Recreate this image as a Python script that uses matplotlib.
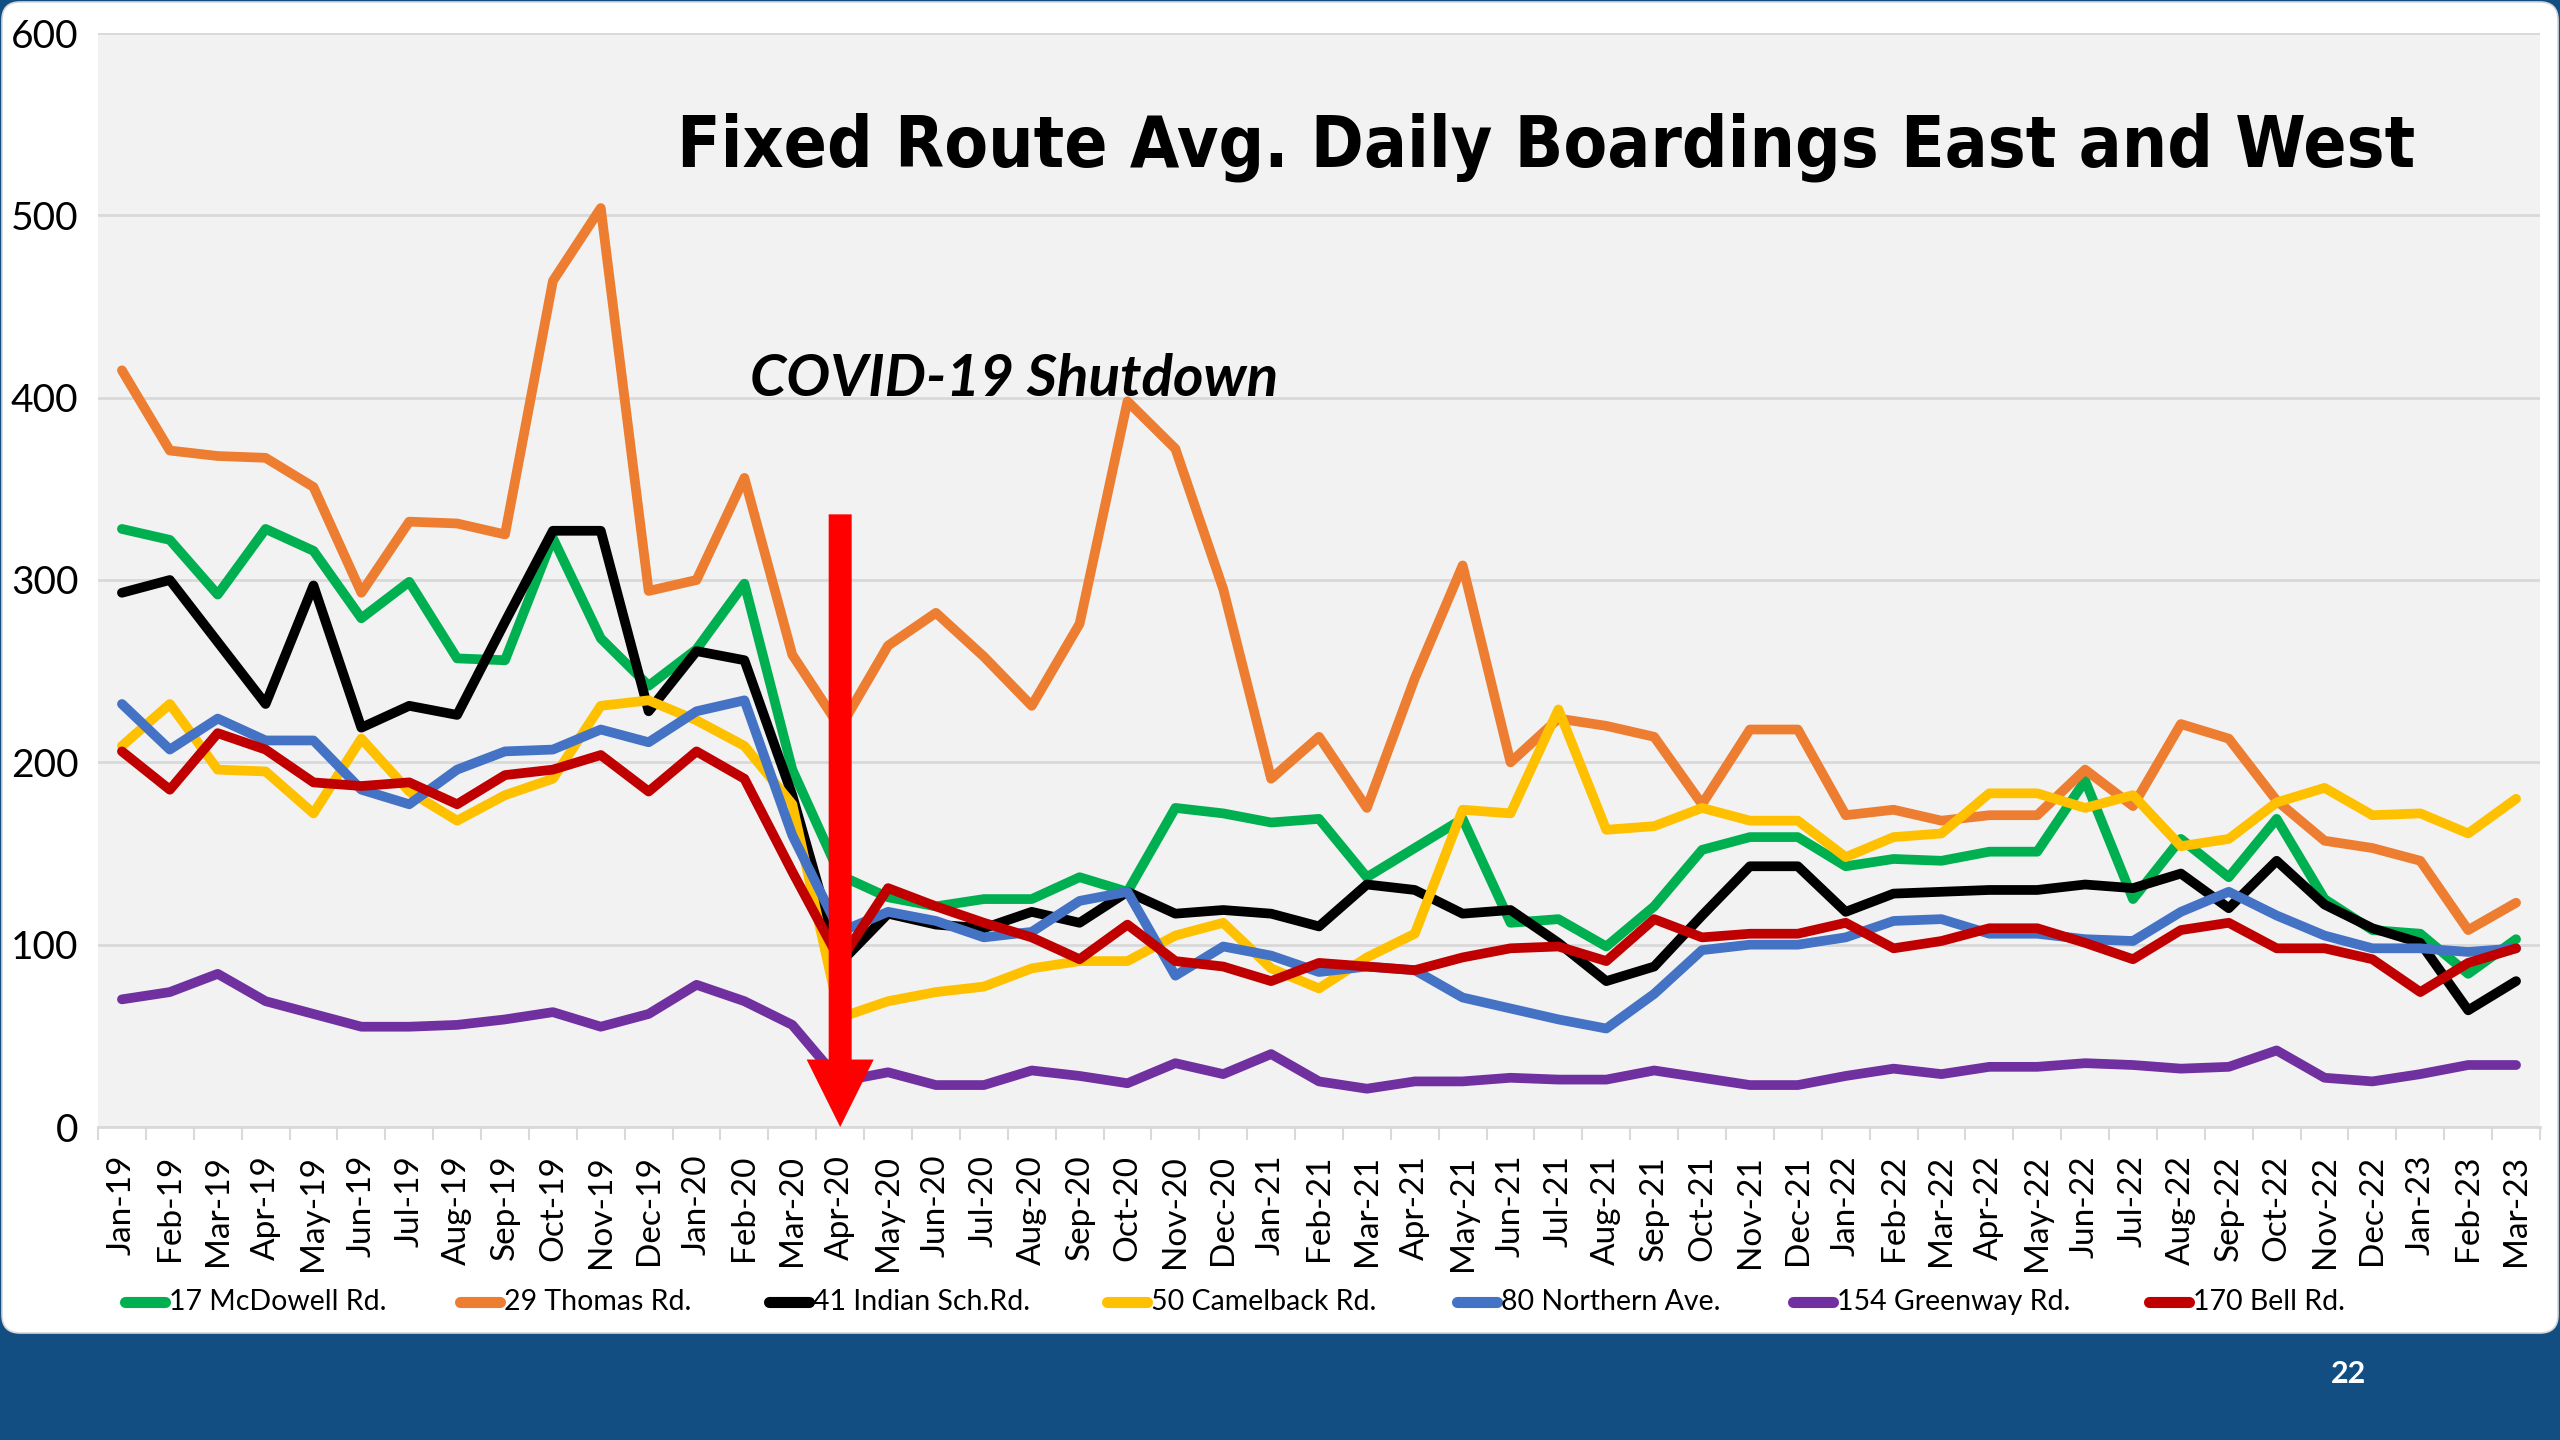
import matplotlib
matplotlib.use('Agg')
import matplotlib.pyplot as plt
from matplotlib.patches import FancyBboxPatch, FancyArrow
from matplotlib.lines import Line2D

plt.rcParams['font.family'] = ['Lato', 'DejaVu Sans']

months = ['Jan-19', 'Feb-19', 'Mar-19', 'Apr-19', 'May-19', 'Jun-19', 'Jul-19', 'Aug-19',
          'Sep-19', 'Oct-19', 'Nov-19', 'Dec-19', 'Jan-20', 'Feb-20', 'Mar-20', 'Apr-20',
          'May-20', 'Jun-20', 'Jul-20', 'Aug-20', 'Sep-20', 'Oct-20', 'Nov-20', 'Dec-20',
          'Jan-21', 'Feb-21', 'Mar-21', 'Apr-21', 'May-21', 'Jun-21', 'Jul-21', 'Aug-21',
          'Sep-21', 'Oct-21', 'Nov-21', 'Dec-21', 'Jan-22', 'Feb-22', 'Mar-22', 'Apr-22',
          'May-22', 'Jun-22', 'Jul-22', 'Aug-22', 'Sep-22', 'Oct-22', 'Nov-22', 'Dec-22',
          'Jan-23', 'Feb-23', 'Mar-23']

mcdowell = [328, 322, 292, 328, 316, 279, 299, 257, 256, 323, 268, 242, 262, 298, 196, 138,
            126, 121, 125, 125, 137, 129, 175, 172, 167, 169, 137, 153, 169, 112, 114, 99,
            121, 152, 159, 159, 143, 147, 146, 151, 151, 190, 125, 158, 137, 169, 125, 108,
            106, 84, 103]
thomas = [415, 371, 368, 367, 351, 293, 332, 331, 325, 464, 504, 294, 300, 356, 259, 219,
          264, 282, 258, 231, 276, 398, 372, 295, 191, 214, 175, 246, 308, 200, 224, 220,
          214, 177, 218, 218, 171, 174, 168, 171, 171, 196, 176, 221, 213, 179, 157, 153,
          146, 108, 123]
indian_sch = [293, 300, 266, 232, 297, 219, 231, 226, 277, 327, 327, 228, 261, 256, 182, 90,
              117, 111, 109, 118, 112, 129, 117, 119, 117, 110, 133, 130, 117, 119, 101, 80,
              88, 116, 143, 143, 118, 128, 129, 130, 130, 133, 131, 139, 120, 146, 122, 109,
              101, 64, 80]
camelback = [209, 232, 196, 195, 172, 213, 184, 168, 182, 191, 231, 234, 223, 209, 177, 60,
             69, 74, 77, 87, 91, 91, 105, 112, 87, 76, 93, 106, 174, 172, 229, 163,
             165, 175, 168, 168, 148, 159, 161, 183, 183, 175, 182, 154, 158, 178, 186, 171,
             172, 161, 180]
northern = [232, 207, 224, 212, 212, 185, 177, 196, 206, 207, 218, 211, 228, 234, 160, 107,
            118, 113, 104, 107, 124, 129, 83, 99, 94, 85, 88, 86, 71, 65, 59, 54,
            73, 97, 100, 100, 104, 113, 114, 106, 106, 103, 102, 118, 129, 116, 105, 98,
            98, 96, 98]
greenway = [70, 74, 84, 69, 62, 55, 55, 56, 59, 63, 55, 62, 78, 69, 56, 25,
            30, 23, 23, 31, 28, 24, 35, 29, 40, 25, 21, 25, 25, 27, 26, 26,
            31, 27, 23, 23, 28, 32, 29, 33, 33, 35, 34, 32, 33, 42, 27, 25,
            29, 34, 34]
bell = [206, 185, 216, 207, 189, 187, 189, 177, 193, 196, 204, 184, 206, 191, 140, 91,
        131, 121, 112, 104, 92, 111, 91, 88, 80, 90, 88, 86, 93, 98, 99, 91,
        114, 104, 106, 106, 112, 98, 102, 109, 109, 101, 92, 108, 112, 98, 98, 92,
        74, 90, 98]

route_names = ['17 McDowell Rd.', '29 Thomas Rd.', '41 Indian Sch.Rd.', '50 Camelback Rd.',
               '80 Northern Ave.', '154 Greenway Rd.', '170 Bell Rd.']
route_data = [mcdowell, thomas, indian_sch, camelback, northern, greenway, bell]
route_colors = ['#00B050', '#ED7D31', '#000000', '#FFC000', '#4472C4', '#7030A0', '#C00000']

shutdown_month = 'Apr-20'
arrow_top = 336

fig = plt.figure(figsize=(25.6, 14.4), dpi=100)
fig.patch.set_facecolor('#124E82')

# white slide panel with rounded corners
panel = FancyBboxPatch((0.02, 1.07), 25.56, 13.31, boxstyle='round,pad=0,rounding_size=0.18',
                       transform=fig.dpi_scale_trans, facecolor='white', edgecolor='#D6D6D6',
                       linewidth=1.2, zorder=-10)
fig.patches.append(panel)

ax = fig.add_axes([98 / 2560, 1 - 1127 / 1440, (2540 - 98) / 2560, (1127 - 33) / 1440])
ax.set_facecolor('#F2F2F2')

x = list(range(len(months)))
for vals, c in zip(route_data, route_colors):
    ax.plot(x, vals, color=c, lw=7, solid_joinstyle='round', solid_capstyle='round', zorder=3)

ax.set_xlim(-0.5, len(months) - 0.5)
ax.set_ylim(0, 600)
ax.set_yticks(range(0, 601, 100))
ax.yaxis.grid(True, color='#D9D9D9', lw=2)
ax.set_axisbelow(True)
for s in ['left', 'right', 'top']:
    ax.spines[s].set_visible(False)
ax.spines['bottom'].set_color('#D9D9D9')
ax.spines['bottom'].set_linewidth(2)

ax.set_xticks(x)
ax.set_xticklabels(months, rotation=90, fontsize=24)
ax.set_xticks([i + 0.5 for i in range(-1, len(months))], minor=True)
ax.tick_params(axis='x', which='major', length=0, pad=20)
ax.tick_params(axis='x', which='minor', length=9, width=1.5, color='#D9D9D9')
ax.tick_params(axis='y', length=0, pad=14, labelsize=28)

# shutdown arrow
xa = months.index(shutdown_month)
ax.add_patch(FancyArrow(xa, arrow_top, 0, -arrow_top, width=0.48, head_width=1.4,
                        head_length=37, length_includes_head=True, color='#FF0000',
                        lw=0, zorder=5))

title = fig.text(677 / 2560, 1 - 167 / 1440, 'Fixed Route Avg. Daily Boardings East and West',
                 fontsize=66, fontweight='heavy', fontstretch='condensed',
                 family=['DejaVu Sans'], ha='left', va='baseline')
# shrink the title so it spans the same width as in the slide
fig.canvas.draw()
w = title.get_window_extent().width
title.set_fontsize(66 * min(1.0, (2414 - 677) / w))

fig.text(750 / 2560, 1 - 396 / 1440, 'COVID-19 Shutdown', fontsize=42, fontweight='bold',
         style='italic', ha='left', va='baseline')

# legend
leg_x = [125, 460, 769, 1107, 1457, 1793, 2149]
leg_y = 1 - 1302 / 1440
for lx, name, c in zip(leg_x, route_names, route_colors):
    fig.add_artist(Line2D([lx / 2560, (lx + 40) / 2560], [leg_y, leg_y], color=c, lw=8,
                          solid_capstyle='round', transform=fig.transFigure))
    fig.text((lx + 44) / 2560, leg_y, name, fontsize=20.5, ha='left', va='center')

fig.text(2348 / 2560, 1 - 1374 / 1440, '22', color='white', fontsize=22, fontweight='bold',
         ha='center', va='center')

fig.savefig('out.png', dpi=100, facecolor=fig.get_facecolor())
